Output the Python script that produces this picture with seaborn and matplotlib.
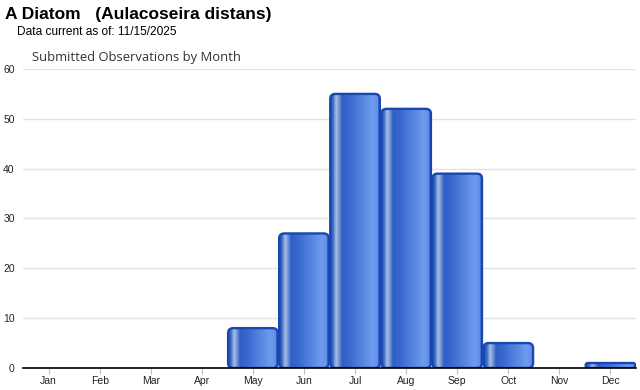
import numpy as np
import pandas as pd
import matplotlib
matplotlib.use("Agg")
import matplotlib.pyplot as plt
from matplotlib.patches import FancyBboxPatch
from matplotlib.colors import LinearSegmentedColormap
import seaborn as sns

months = ["Jan", "Feb", "Mar", "Apr", "May", "Jun", "Jul", "Aug", "Sep", "Oct", "Nov", "Dec"]
counts = [0, 0, 0, 0, 8, 27, 55, 52, 39, 5, 0, 1]
y_ticks = [0, 10, 20, 30, 40, 50, 60]

title = "A Diatom   (Aulacoseira distans)"
subtitle = "Data current as of: 11/15/2025"
chart_title = "Submitted Observations by Month"

sns.set_theme(style="white")
plt.rcParams["font.family"] = ["Liberation Sans", "DejaVu Sans"]

W, H = 640, 390
fig = plt.figure(figsize=(W / 100, H / 100), dpi=100)
ax_l, ax_r, ax_t, ax_b = 23, 636, 69, 368
ax = fig.add_axes([ax_l / W, (H - ax_b) / H, (ax_r - ax_l) / W, (ax_b - ax_t) / H])

df = pd.DataFrame({"month": months, "count": counts})
sns.barplot(data=df, x="month", y="count", ax=ax, color="#3a6fd0", width=0.97,
            edgecolor="none", linewidth=0, zorder=2)

ax.set_xlim(-0.5, 11.5)
ax.set_ylim(0, 60)

cmap = LinearSegmentedColormap.from_list("cyl", [
    (0.00, "#1f4fb0"),
    (0.06, "#3f6cc4"),
    (0.12, "#a9bde3"),
    (0.17, "#7f9fd8"),
    (0.24, "#2f5fc4"),
    (0.40, "#3a6ad0"),
    (0.85, "#6e9cee"),
    (0.95, "#6592e8"),
    (1.00, "#2a58c0"),
])
grad = np.linspace(0, 1, 256).reshape(1, -1)

px_x = 12 / (ax_r - ax_l)
px_y = 60 / (ax_b - ax_t)
aspect = px_y / px_x

for p in list(ax.patches):
    h = p.get_height()
    x = p.get_x()
    w = p.get_width()
    p.set_visible(False)
    if h <= 0:
        continue
    r = min(5 * px_x, (h / aspect) / 2 * 0.9, w / 2)
    box = FancyBboxPatch((x, 0), w, h, boxstyle=f"round,pad=0,rounding_size={r}",
                         mutation_aspect=aspect, facecolor="none",
                         edgecolor="#1747b0", linewidth=1.7, zorder=4)
    ax.add_patch(box)
    im = ax.imshow(grad, cmap=cmap, extent=(x, x + w, 0, h), aspect="auto",
                   interpolation="bilinear", zorder=3)
    im.set_clip_path(box)

ax.set_xlim(-0.5, 11.5)
ax.set_ylim(0, 60)
ax.set_yticks(y_ticks)
ax.set_yticklabels([str(v) for v in y_ticks])
ax.set_xlabel("")
ax.set_ylabel("")
ax.grid(axis="y", color="#e3e3e3", linewidth=1, zorder=0)
ax.set_axisbelow(True)
for s in ["top", "right", "left"]:
    ax.spines[s].set_visible(False)
ax.spines["bottom"].set_color("#000000")
ax.spines["bottom"].set_linewidth(1.2)
ax.spines["bottom"].set_zorder(5)
ax.tick_params(axis="y", length=0, pad=6, labelsize=7.5, labelcolor="#222222")
ax.tick_params(axis="x", length=4, width=0.8, color="#c0c0c0", pad=2,
               labelsize=7.5, labelcolor="#222222", bottom=True)

fig.text(5 / W, 1 - 14 / H, title, fontsize=12.5, fontweight="bold", color="#000000",
         va="center", ha="left")
fig.text(17 / W, 1 - 32 / H, subtitle, fontsize=8.6, color="#000000",
         va="center", ha="left")
fig.text(32 / W, 1 - 58 / H, chart_title, fontsize=9.4, color="#333333",
         va="center", ha="left", family=["Open Sans", "DejaVu Sans"])

fig.savefig("out.png", dpi=100)
